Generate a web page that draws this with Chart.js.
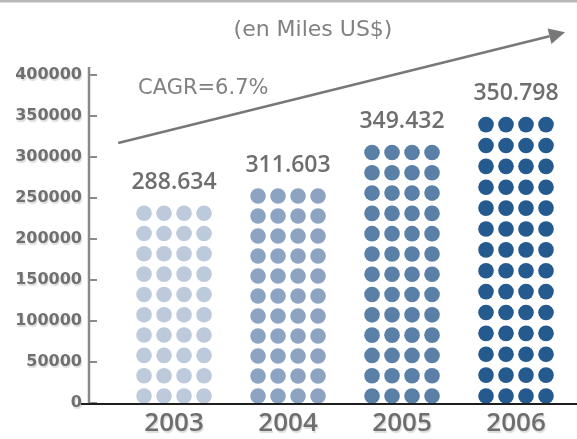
<!DOCTYPE html>
<html>
<head>
<meta charset="utf-8">
<script src="https://cdn.jsdelivr.net/npm/chart.js@4"></script>
<style>
  html, body { margin: 0; padding: 0; background: #ffffff; }
  #wrap { width: 577px; height: 439px; }
</style>
</head>
<body>
<div id="wrap"><canvas id="c" width="577" height="439"></canvas></div>
<script>
// ---- data ----
const years = [2003, 2004, 2005, 2006];
// height of each dot column, read on the axis
const pictoHeights = [241000, 262000, 315000, 349000];
// values printed above each column
const printedValues = [288634, 311603, 349432, 350798];
const dotColors = ['#BCCADC', '#8CA4C1', '#5B80A8', '#255A8F'];
const yTicks = [0, 50000, 100000, 150000, 200000, 250000, 300000, 350000, 400000];
const unitText = '(en Miles US$)';
const cagrText = 'CAGR=6.7%';
// arrow from/to, in axis units (year, value)
const arrowFrom = [2002.51, 317000];
const arrowTo = [2006.43, 452000];

function fmt(v) {
  return String(v).replace(/\B(?=(\d{3})+(?!\d))/g, '.');
}

const decor = {
  id: 'decor',
  beforeDraw(chart) {
    const ctx = chart.ctx;
    ctx.save();
    ctx.fillStyle = '#ffffff';
    ctx.fillRect(0, 0, chart.width, chart.height);
    ctx.fillStyle = '#b8b8b8';
    ctx.fillRect(0, 0, chart.width, 2.5);
    ctx.restore();
    // shadow for axis labels
    ctx.shadowColor = 'rgba(0,0,0,0.14)';
    ctx.shadowOffsetX = 1;
    ctx.shadowOffsetY = 1.5;
    ctx.shadowBlur = 1;
  },
  beforeDatasetsDraw(chart) {
    const ctx = chart.ctx;
    ctx.shadowColor = 'rgba(0,0,0,0)';
    ctx.shadowOffsetX = 0;
    ctx.shadowOffsetY = 0;
    ctx.shadowBlur = 0;
  },
  afterDatasetsDraw(chart) {
    const ctx = chart.ctx;
    const xs = chart.scales.x, ys = chart.scales.y;
    const area = chart.chartArea;
    ctx.save();
    ctx.shadowColor = 'rgba(0,0,0,0)';

    // y axis line + inner tick marks
    ctx.strokeStyle = '#8a8a8a';
    ctx.lineWidth = 2.5;
    ctx.beginPath();
    ctx.moveTo(area.left, area.top - 8);
    ctx.lineTo(area.left, area.bottom);
    ctx.stroke();
    ctx.lineWidth = 2;
    yTicks.forEach(v => {
      const py = ys.getPixelForValue(v);
      ctx.beginPath();
      ctx.moveTo(area.left, py);
      ctx.lineTo(area.left + 8, py);
      ctx.stroke();
    });

    // dots
    const meta = chart.getDatasetMeta(0);
    meta.data.forEach((bar, i) => {
      const p = bar.getProps(['x', 'y', 'base', 'width'], true);
      const cols = 4;
      const colStep = p.width / cols;
      const r = colStep * 0.39;
      const n = Math.max(1, Math.round((p.base - p.y) / 20.3));
      const bottomC = p.base - 7;
      const topC = p.y + r;
      const rowStep = n > 1 ? (bottomC - topC) / (n - 1) : 0;
      ctx.fillStyle = dotColors[i];
      for (let rI = 0; rI < n; rI++) {
        const cy = bottomC - rI * rowStep;
        for (let c = 0; c < cols; c++) {
          const cx = p.x - p.width / 2 + colStep * (c + 0.5);
          ctx.beginPath();
          ctx.arc(cx, cy, r, 0, Math.PI * 2);
          ctx.fill();
        }
      }
      // printed value
      ctx.fillStyle = '#6e6e6e';
      ctx.font = '600 23px "Open Sans", "DejaVu Sans Condensed"';
      ctx.textAlign = 'center';
      ctx.textBaseline = 'middle';
      ctx.fillText(fmt(printedValues[i]), p.x, p.y - 23);
    });

    // x axis line
    ctx.strokeStyle = '#1e1e1e';
    ctx.lineWidth = 2;
    ctx.beginPath();
    ctx.moveTo(area.left - 8, area.bottom + 1);
    ctx.lineTo(chart.width, area.bottom + 1);
    ctx.stroke();

    // arrow
    const x1 = xs.getPixelForValue(arrowFrom[0]), y1 = ys.getPixelForValue(arrowFrom[1]);
    const x2 = xs.getPixelForValue(arrowTo[0]), y2 = ys.getPixelForValue(arrowTo[1]);
    const ang = Math.atan2(y2 - y1, x2 - x1);
    const headLen = 16, headW = 8;
    const bx = x2 - headLen * Math.cos(ang), by = y2 - headLen * Math.sin(ang);
    ctx.strokeStyle = '#787878';
    ctx.fillStyle = '#787878';
    ctx.lineWidth = 2.5;
    ctx.beginPath();
    ctx.moveTo(x1, y1);
    ctx.lineTo(bx, by);
    ctx.stroke();
    ctx.beginPath();
    ctx.moveTo(x2, y2);
    ctx.lineTo(bx + headW * Math.sin(ang), by - headW * Math.cos(ang));
    ctx.lineTo(bx - headW * Math.sin(ang), by + headW * Math.cos(ang));
    ctx.closePath();
    ctx.fill();

    // texts
    ctx.fillStyle = '#818181';
    ctx.textBaseline = 'middle';
    ctx.font = '22px "DejaVu Sans"';
    ctx.textAlign = 'center';
    ctx.fillText(unitText, 313, 30);
    ctx.font = '21px "DejaVu Sans"';
    ctx.textAlign = 'left';
    ctx.fillText(cagrText, 138, 89);
    ctx.restore();
  }
};

new Chart(document.getElementById('c'), {
  type: 'bar',
  data: {
    datasets: [{
      data: years.map((x, i) => ({ x: x, y: pictoHeights[i] })),
      backgroundColor: 'rgba(0,0,0,0)',
      borderWidth: 0,
      barThickness: 80
    }]
  },
  options: {
    responsive: false,
    animation: false,
    devicePixelRatio: 1,
    layout: { padding: { top: 75, left: 0, right: 0, bottom: 0 } },
    plugins: { legend: { display: false }, tooltip: { enabled: false }, title: { display: false } },
    scales: {
      x: {
        type: 'linear',
        offset: false,
        min: 2002.254,
        max: 2006.535,
        afterBuildTicks: s => { s.ticks = years.map(v => ({ value: v })); },
        afterFit: s => { s.height = 36; },
        grid: { display: false, drawTicks: false, offset: false },
        border: { display: false },
        ticks: {
          autoSkip: false, maxRotation: 0,
          callback: v => String(v),
          color: '#6e6e6e',
          font: { family: '"Open Sans", "DejaVu Sans"', size: 26, weight: '600' },
          padding: 5
        }
      },
      y: {
        min: 0,
        max: 400000,
        afterBuildTicks: s => { s.ticks = yTicks.map(v => ({ value: v })); },
        afterFit: s => { s.width = 89; },
        grid: { display: false, drawTicks: false },
        border: { display: false },
        ticks: {
          callback: v => String(v),
          color: '#707070',
          font: { family: 'DejaVu Sans', size: 16, weight: 'bold' },
          padding: 7
        }
      }
    }
  },
  plugins: [decor]
});
</script>
</body>
</html>
